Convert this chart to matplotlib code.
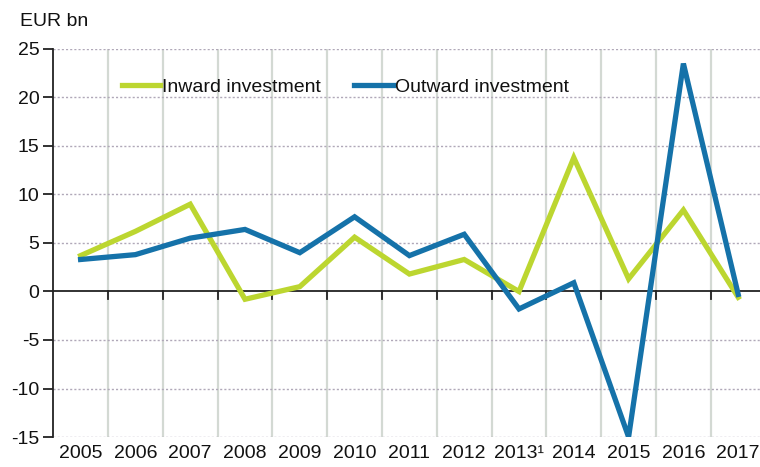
import matplotlib
matplotlib.use("Agg")
import matplotlib.pyplot as plt
import numpy as np

years = ["2005", "2006", "2007", "2008", "2009", "2010", "2011", "2012",
         "2013¹", "2014", "2015", "2016", "2017"]
inward = [3.7, 6.2, 9.0, -0.8, 0.5, 5.6, 1.8, 3.3, 0.0, 13.8, 1.3, 8.4, -0.6]
outward = [3.3, 3.8, 5.5, 6.4, 4.0, 7.7, 3.7, 5.9, -1.8, 0.9, -15.0, 23.5, -0.3]
yticks = [-15, -10, -5, 0, 5, 10, 15, 20, 25]

plt.rcParams['font.family'] = ['Liberation Sans', 'DejaVu Sans']

W, H = 760, 467
fig = plt.figure(figsize=(W / 100, H / 100), dpi=100)
left, right = 53.2, 765.6
top, bottom = 49.0, 437.0
ax = fig.add_axes([left / W, 1 - bottom / H, (right - left) / W, (bottom - top) / H])

x = np.arange(len(years))
green = '#bcd630'
blue = '#1572a9'
ax.plot(x, inward, color=green, lw=3.8, solid_joinstyle='miter', label='Inward investment', zorder=3)
ax.plot(x, outward, color=blue, lw=3.8, solid_joinstyle='miter', label='Outward investment', zorder=4)

ax.set_xlim(-0.5, len(years) - 0.5)
ax.set_ylim(-15, 25)

# horizontal dotted gridlines
for yv in yticks:
    if yv != 0:
        ax.axhline(yv, color='#b0a8b8', lw=1.0, ls=(0, (1.5, 1.5)), zorder=1)
# vertical boundaries
for b in np.arange(0.5, len(years) - 0.5, 1):
    ax.axvline(b, color='#d3d9d3', lw=1.6, zorder=0)
# zero line with ticks
ax.axhline(0, color='#222222', lw=1.3, zorder=2)
for b in np.arange(0.5, len(years) - 0.5, 1):
    ax.plot([b, b], [0, -0.75], color='#222222', lw=1.3, zorder=2, clip_on=False)

for s in ['top', 'right', 'bottom']:
    ax.spines[s].set_visible(False)
ax.spines['left'].set_color('#222222')
ax.spines['left'].set_linewidth(1.3)

fs = 14
ax.set_yticks(yticks)
ax.set_yticklabels([str(v) for v in yticks])
ax.tick_params(axis='y', length=7, width=1.3, color='#222222', labelsize=fs, pad=3,
               labelcolor='#111111')
ax.set_xticks(x)
ax.set_xticklabels(years)
ax.tick_params(axis='x', length=0, labelsize=fs, pad=5.5, labelcolor='#111111')

fig.text(20 / W, 1 - 21 / H, 'EUR bn', fontsize=fs, va='center', ha='left', color='#111111')

leg = ax.legend(loc='upper left', bbox_to_anchor=(0.085, 0.945), ncol=2, frameon=False,
                fontsize=fs, handlelength=2.0, handletextpad=0.1, columnspacing=1.7,
                borderaxespad=0)
for t in leg.get_texts():
    t.set_color('#111111')

fig.savefig('out.png', dpi=100)
